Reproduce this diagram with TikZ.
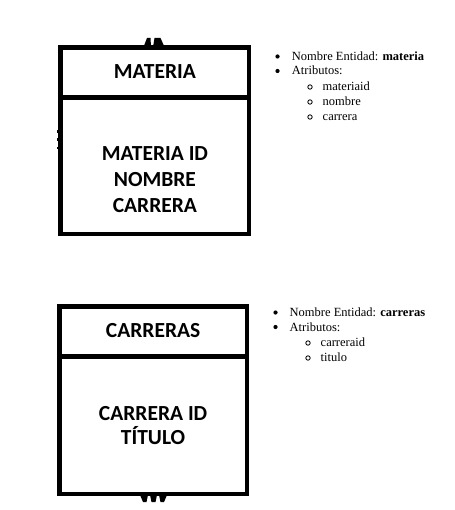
\documentclass[tikz,border=0pt]{standalone}
\usepackage{fontspec}
\newfontfamily\hdrfont{Carlito}
\newfontfamily\listfont{Liberation Serif}
\begin{document}
\begin{tikzpicture}[x=1pt,y=-1pt,
  entity/.style={draw=black, line width=4.7pt, inner sep=0pt, fill=white},
  divline/.style={draw=black, line width=4.7pt},
  footpiece/.style={fill=black},
  etext/.style={font=\hdrfont\bfseries\fontsize{21.5}{26}\selectfont, anchor=base, inner sep=0pt},
  ltext/.style={font=\listfont\fontsize{12.5}{15}\selectfont, anchor=base west, inner sep=0pt},
  dot/.style={circle, fill=black, inner sep=0pt, minimum size=4.2pt},
  ring/.style={circle, draw=black, line width=0.8pt, inner sep=0pt, minimum size=4.4pt}]
\useasboundingbox (0,0) rectangle (454,510);
\fill[white] (0,0) rectangle (454,510);

% crow's foot fragment above MATERIA
\fill[footpiece] (143.5,47) -- (151,47) -- (150.5,38) -- (147,38) -- cycle;
\fill[footpiece] (153,47) -- (164.5,47) -- (160.5,38) -- (154.5,38) -- cycle;

% ---------- MATERIA entity ----------
\node[entity, minimum width=188.2pt, minimum height=186.3pt] (mat) at (154.9,140.85) {};
\coordinate (matdl) at (60.8,97.5);
\coordinate (matdr) at (249,97.5);
\draw[divline] (matdl) -- (matdr);
\node[etext] (mathead) at (154.9,78.6) {MATERIA};
\node[etext] (matl1) at (154.9,160.4) {MATERIA ID};
\node[etext] (matl2) at (154.9,186.4) {NOMBRE};
\node[etext] (matl3) at (154.9,212.4) {CARRERA};

% small marks on left side of MATERIA
\coordinate (lm1a) at (57.2,131.5); \coordinate (lm1b) at (59,131.5);
\coordinate (lm2a) at (57.2,139.5); \coordinate (lm2b) at (59,139.5);
\coordinate (lm3a) at (57.2,148); \coordinate (lm3b) at (59,148);
\draw[line width=2.5pt] (lm1a) -- (lm1b);
\draw[line width=2.5pt] (lm2a) -- (lm2b);
\draw[line width=2.5pt] (lm3a) -- (lm3b);

% crow's foot fragment below CARRERAS
\fill[footpiece] (140,495) -- (148,495) -- (146.5,502) -- (143,502) -- cycle;
\fill[footpiece] (150,495) -- (157,495) -- (155.5,502) -- (151.5,502) -- cycle;
\fill[footpiece] (159,495) -- (167,495) -- (164,502) -- (160.5,502) -- cycle;

% ---------- CARRERAS entity ----------
\node[entity, minimum width=187.8pt, minimum height=187.3pt] (car) at (153.1,400.35) {};
\coordinate (cardl) at (59.2,356.7);
\coordinate (cardr) at (247,356.7);
\draw[divline] (cardl) -- (cardr);
\node[etext] (carhead) at (153.1,337.8) {CARRERAS};
\node[etext] (carl1) at (153.1,420) {CARRERA ID};
\node[etext] (carl2) at (153.1,444.5) {TÍTULO};

% ---------- list for materia ----------
\node[dot] (mb1) at (277.5,56.5) {};
\node[ltext] (mt1) at (291.7,60.5) {Nombre Entidad: \textbf{materia}};
\node[dot] (mb2) at (277.5,71) {};
\node[ltext] (mt2) at (291.7,75) {Atributos:};
\node[ring] (mr1) at (310,87) {};
\node[ltext] (ms1) at (322.5,90.5) {materiaid};
\node[ring] (mr2) at (310,102) {};
\node[ltext] (ms2) at (322.5,105.5) {nombre};
\node[ring] (mr3) at (310,117) {};
\node[ltext] (ms3) at (322.5,120.5) {carrera};

% ---------- list for carreras ----------
\node[dot] (cb1) at (275.5,312.5) {};
\node[ltext] (ct1) at (289.5,316.5) {Nombre Entidad: \textbf{carreras}};
\node[dot] (cb2) at (275.5,327) {};
\node[ltext] (ct2) at (289.5,331) {Atributos:};
\node[ring] (cr1) at (308,343) {};
\node[ltext] (cs1) at (320.5,346.5) {carreraid};
\node[ring] (cr2) at (308,358) {};
\node[ltext] (cs2) at (320.5,361.5) {titulo};
\end{tikzpicture}
\end{document}
